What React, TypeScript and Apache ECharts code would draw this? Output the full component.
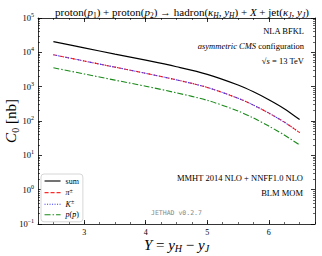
import React, { useEffect, useRef } from "react";
import * as echarts from "echarts";

const rapidity = [2.5, 3.0, 3.5, 4.0, 4.5, 5.0, 5.5, 5.75, 6.0, 6.25, 6.5];
const sumC0 = [20400, 13500, 8900, 5900, 3800, 2290, 1120, 710, 417, 229, 110];
const pionC0 = [8500, 5600, 3700, 2450, 1580, 950, 460, 290, 170, 93, 46];
const kaonC0 = [8500, 5600, 3700, 2450, 1580, 950, 460, 290, 170, 93, 46];
const protonC0 = [3550, 2350, 1550, 1030, 660, 400, 195, 122, 71, 39, 20];
const majorX = [3, 4, 5, 6];

const SERIF = "Liberation Serif";

const subStyles = {
  n: { fontFamily: SERIF, fontSize: 11, fontWeight: "normal", lineHeight: 14, color: "#000" },
  i: { fontFamily: SERIF, fontSize: 11, fontWeight: "normal", lineHeight: 14, fontStyle: "italic", color: "#000" },
  sr: { fontFamily: SERIF, fontSize: 7.5, fontWeight: "normal", lineHeight: 9, verticalAlign: "bottom", color: "#000" },
  si: { fontFamily: SERIF, fontSize: 7.5, fontWeight: "normal", lineHeight: 9, verticalAlign: "bottom", fontStyle: "italic", color: "#000" },
};

export default function App() {
  const ref = useRef<HTMLDivElement>(null);
  useEffect(() => {
    if (!ref.current) return;
    const chart = echarts.init(ref.current, null, { renderer: "svg" });
    const pts = (ys: number[]) => rapidity.map((x, k) => [x, ys[k]]);
    const xBase = {
      type: "value",
      min: 2.25,
      max: 6.75,
      axisLine: { show: true, lineStyle: { color: "#000", width: 0.8 } },
      splitLine: { show: false },
    };
    const yBase = {
      type: "log",
      logBase: 10,
      min: 0.1,
      max: 100000,
      axisLine: { show: true, lineStyle: { color: "#000", width: 0.8 } },
      splitLine: { show: false },
      axisTick: { inside: true, length: 4, lineStyle: { color: "#000", width: 0.8 } },
      minorTick: { show: true, splitNumber: 9, length: 2, lineStyle: { color: "#000", width: 0.6 } },
    };
    const legendNames: Record<string, string> = {
      sum: "{n|sum}",
      pi: "{i|π}{sp|±}",
      K: "{i|K}{sp|±}",
      p: "{i|p}{n|(}{i|p̄}{n|)}",
    };
    chart.setOption({
      animation: false,
      backgroundColor: "#fff",
      grid: { left: 38, right: 7, top: 18, bottom: 32, outerBoundsMode: "none", containLabel: false },
      title: {
        text:
          "{n|proton(}{i|p}{sr|1}{n|) + proton(}{i|p}{sr|2}{n|) → hadron(}{i|κ}{si|H}{n|, }{i|y}{si|H}{n|) + }{i|X}{n| + jet(}{i|κ}{si|J}{n|, }{i|y}{si|J}{n|)}",
        left: 177,
        textAlign: "center",
        top: 0,
        textStyle: { fontWeight: "normal", fontFamily: SERIF, fontSize: 11, rich: subStyles },
      },
      legend: {
        orient: "vertical",
        left: 41,
        top: 174,
        itemWidth: 16,
        itemHeight: 8,
        itemGap: 2.6,
        padding: [3, 4, 3, 3],
        backgroundColor: "#fff",
        borderColor: "#cccccc",
        borderWidth: 0.8,
        borderRadius: 3,
        itemStyle: { opacity: 0 },
        lineStyle: { width: 1.1 },
        data: ["sum", "pi", "K", "p"],
        formatter: (name: string) => legendNames[name],
        textStyle: {
          fontFamily: SERIF,
          fontSize: 8,
          rich: {
            n: { fontFamily: SERIF, fontSize: 8, lineHeight: 10, color: "#000" },
            i: { fontFamily: SERIF, fontSize: 8, lineHeight: 10, fontStyle: "italic", color: "#000" },
            sp: { fontFamily: SERIF, fontSize: 6, lineHeight: 6, verticalAlign: "top", color: "#000" },
          },
        },
      },
      xAxis: [
        {
          ...xBase,
          position: "bottom",
          axisTick: { inside: true, length: 4, customValues: majorX, lineStyle: { color: "#000", width: 0.8 } },
          axisLabel: { customValues: majorX, fontFamily: SERIF, fontSize: 8, color: "#000", margin: 4 },
          name: "{i|Y}{n| = }{i|y}{s|H}{n| − }{i|y}{s|J}",
          nameLocation: "middle",
          nameGap: 13,
          nameMoveOverlap: false,
          nameTextStyle: {
            rich: {
              n: { fontFamily: SERIF, fontSize: 15, lineHeight: 16, color: "#000" },
              i: { fontFamily: SERIF, fontSize: 15, lineHeight: 16, fontStyle: "italic", color: "#000" },
              s: { fontFamily: SERIF, fontSize: 10, lineHeight: 11, verticalAlign: "bottom", fontStyle: "italic", color: "#000" },
            },
          },
        },
        {
          ...xBase,
          position: "bottom",
          interval: 0.25,
          axisLine: { show: false },
          axisTick: { inside: true, length: 2, lineStyle: { color: "#000", width: 0.6 } },
          axisLabel: { show: false },
        },
        {
          ...xBase,
          position: "top",
          axisTick: { inside: true, length: 4, customValues: majorX, lineStyle: { color: "#000", width: 0.8 } },
          axisLabel: { show: false },
        },
        {
          ...xBase,
          position: "top",
          interval: 0.25,
          axisLine: { show: false },
          axisTick: { inside: true, length: 2, lineStyle: { color: "#000", width: 0.6 } },
          axisLabel: { show: false },
        },
      ],
      yAxis: [
        {
          ...yBase,
          position: "left",
          axisLabel: {
            margin: 4,
            formatter: (v: number) => {
              const e = Math.round(Math.log10(v));
              return "{b|10}{s|" + (e < 0 ? "−" + -e : String(e)) + "}";
            },
            rich: {
              b: { fontFamily: SERIF, fontSize: 8.5, lineHeight: 12, color: "#000" },
              s: { fontFamily: SERIF, fontSize: 6, lineHeight: 6, verticalAlign: "top", color: "#000" },
            },
          },
          name: "{i|C}{s|0}{n| [nb]}",
          nameLocation: "middle",
          nameRotate: 90,
          nameGap: 18,
          nameMoveOverlap: false,
          nameTextStyle: {
            rich: {
              n: { fontFamily: SERIF, fontSize: 15, lineHeight: 18, color: "#000" },
              i: { fontFamily: SERIF, fontSize: 15, lineHeight: 18, fontStyle: "italic", color: "#000" },
              s: { fontFamily: SERIF, fontSize: 10, lineHeight: 12, verticalAlign: "bottom", color: "#000" },
            },
          },
        },
        {
          ...yBase,
          position: "right",
          axisLabel: { show: false },
        },
      ],
      graphic: [
        {
          type: "text",
          x: 304,
          y: 31,
          style: { text: "NLA BFKL", fontFamily: SERIF, fontSize: 8.5, fill: "#000", textAlign: "right", textVerticalAlign: "middle" },
        },
        {
          type: "text",
          x: 304,
          y: 46,
          style: {
            text: "{i|asymmetric CMS}{n| configuration}",
            textAlign: "right",
            textVerticalAlign: "middle",
            rich: {
              n: { fontFamily: SERIF, fontSize: 8.5, fill: "#000" },
              i: { fontFamily: SERIF, fontSize: 8.5, fontStyle: "italic", fill: "#000" },
            },
          },
        },
        {
          type: "text",
          x: 304,
          y: 61,
          style: {
            text: "{n|√}{i|s}{n| = 13 TeV}",
            textAlign: "right",
            textVerticalAlign: "middle",
            rich: {
              n: { fontFamily: SERIF, fontSize: 8.5, fill: "#000" },
              i: { fontFamily: SERIF, fontSize: 8.5, fontStyle: "italic", fill: "#000" },
            },
          },
        },
        {
          type: "text",
          x: 303,
          y: 178,
          style: { text: "MMHT 2014 NLO + NNFF1.0 NLO", fontFamily: SERIF, fontSize: 8.5, fill: "#000", textAlign: "right", textVerticalAlign: "middle" },
        },
        {
          type: "text",
          x: 303,
          y: 193,
          style: { text: "BLM MOM", fontFamily: SERIF, fontSize: 8.5, fill: "#000", textAlign: "right", textVerticalAlign: "middle" },
        },
        {
          type: "text",
          x: 151,
          y: 213,
          style: { text: "JETHAD v0.2.7", fontFamily: "DejaVu Sans Mono", fontSize: 6.5, fill: "#888", textAlign: "left", textVerticalAlign: "middle" },
        },
      ],
      series: [
        {
          name: "sum",
          type: "line",
          data: pts(sumC0),
          smooth: 0.3,
          symbol: "none",
          lineStyle: { color: "#000", width: 1.2 },
          itemStyle: { color: "#000" },
        },
        {
          name: "pi",
          type: "line",
          data: pts(pionC0),
          smooth: 0.3,
          symbol: "none",
          lineStyle: { color: "#ff2a2a", width: 1.1, type: [4, 2] },
          itemStyle: { color: "#ff2a2a" },
        },
        {
          name: "K",
          type: "line",
          data: pts(kaonC0),
          smooth: 0.3,
          symbol: "none",
          lineStyle: { color: "#3030ff", width: 1.1, type: [1, 1.5] },
          itemStyle: { color: "#3030ff" },
        },
        {
          name: "p",
          type: "line",
          data: pts(protonC0),
          smooth: 0.3,
          symbol: "none",
          lineStyle: { color: "#1a8a1a", width: 1.1, type: [6, 2, 1.5, 2] },
          itemStyle: { color: "#1a8a1a" },
        },
      ],
    });
    return () => chart.dispose();
  }, []);
  return <div ref={ref} style={{ width: 322, height: 256, position: "fixed", left: 0, top: 0 }} />;
}
